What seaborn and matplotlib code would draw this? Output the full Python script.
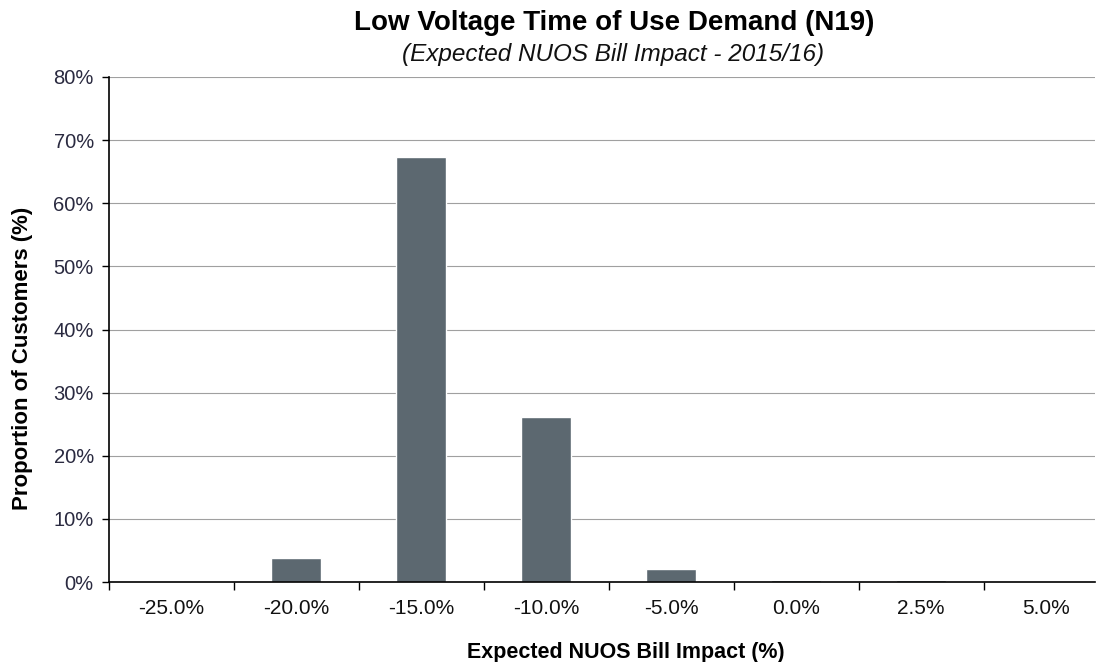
import seaborn as sns
import matplotlib.pyplot as plt
from matplotlib.ticker import FixedLocator, PercentFormatter

# chart data
categories = ['-25.0%', '-20.0%', '-15.0%', '-10.0%', '-5.0%', '0.0%', '2.5%', '5.0%']
proportion = [0.0, 3.8, 67.4, 26.1, 2.1, 0.3, 0.3, 0.0]
y_ticks = [0, 10, 20, 30, 40, 50, 60, 70, 80]

sns.set_style('white')
plt.rcParams['font.family'] = ['Liberation Sans', 'DejaVu Sans']

fig = plt.figure(figsize=(10.97, 6.62), dpi=100)
ax = fig.add_axes([0.0994, 0.1208, 0.8986, 0.7629])

sns.barplot(x=categories, y=proportion, order=categories, color='#5c6870',
            saturation=1, width=0.4, ax=ax)

ax.set_ylim(0, 80)
ax.set_xlim(-0.5, 7.39)
ax.yaxis.set_major_locator(FixedLocator(y_ticks))
ax.yaxis.set_major_formatter(PercentFormatter(decimals=0))
ax.yaxis.grid(True, color='#a0a0a0', linewidth=0.8)
ax.set_axisbelow(True)

# tick marks sit on category boundaries, labels at centres
ax.xaxis.set_minor_locator(FixedLocator([i + 0.5 for i in range(-1, 7)]))
ax.tick_params(axis='x', which='major', length=0, labelsize=15, pad=12,
               labelcolor='#111111')
ax.tick_params(axis='x', which='minor', length=6, width=1, color='black',
               direction='out', bottom=True)
ax.tick_params(axis='y', length=5, width=1, color='black', direction='out',
               left=True, labelsize=14.5, labelcolor='#2a2a40', pad=6)

for s in ['top', 'right']:
    ax.spines[s].set_visible(False)
for s in ['left', 'bottom']:
    ax.spines[s].set_color('black')
    ax.spines[s].set_linewidth(1.2)

ax.set_xlabel('Expected NUOS Bill Impact (%)', fontsize=15.5, fontweight='bold',
              color='black')
ax.set_ylabel('Proportion of Customers (%)', fontsize=16, fontweight='bold',
              color='black')
ax.xaxis.set_label_coords(0.5245, -0.119)
ax.yaxis.set_label_coords(-0.077, 0.4436)

fig.text(0.56, 0.965, 'Low Voltage Time of Use Demand (N19)', ha='center',
         va='center', fontsize=20, fontweight='bold', color='black')
fig.text(0.559, 0.917, '(Expected NUOS Bill Impact - 2015/16)', ha='center',
         va='center', fontsize=17.5, fontstyle='italic', color='#111111')

fig.savefig('out.png', dpi=100)
